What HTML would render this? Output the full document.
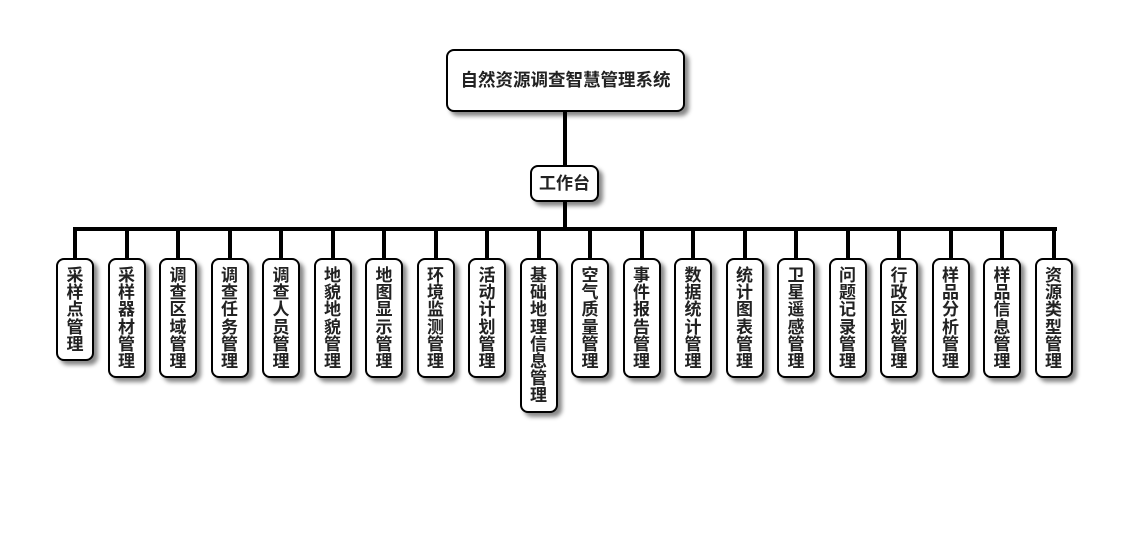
<!DOCTYPE html>
<html><head><meta charset="utf-8"><style>
body{margin:0;width:1130px;height:560px;background:#fff;position:relative;overflow:hidden;font-family:"Liberation Sans","Noto Sans CJK SC",sans-serif;font-weight:bold;color:#222}
.b{position:absolute;box-sizing:border-box;border:2px solid #000;border-radius:8px;background:#fff;box-shadow:4px 4px 4px #888;text-align:center}
.l{position:absolute;background:#000}
.c{top:258px;width:38px;padding:7px 0 6px;font-size:17px;line-height:17.2px;word-break:break-all}
.c span{display:inline-block;width:18px}
</style></head><body>
<div class="b" style="left:446px;top:49px;width:239px;height:63px;line-height:59px;font-size:17.5px">自然资源调查智慧管理系统</div>
<div class="l" style="left:563px;top:112px;width:4px;height:53px"></div>
<div class="b" style="left:530px;top:165px;width:69px;height:37px;line-height:33px;font-size:17px">工作台</div>
<div class="l" style="left:563px;top:202px;width:4px;height:27px"></div>
<div class="l" style="left:73px;top:227px;width:984px;height:4px"></div>
<div id="k"></div>
<script>
var t=["采样点管理","采样器材管理","调查区域管理","调查任务管理","调查人员管理","地貌地貌管理","地图显示管理","环境监测管理","活动计划管理","基础地理信息管理","空气质量管理","事件报告管理","数据统计管理","统计图表管理","卫星遥感管理","问题记录管理","行政区划管理","样品分析管理","样品信息管理","资源类型管理"];
var h="";
for(var i=0;i<t.length;i++){var x=75+i*51.5;
h+='<div class="l" style="left:'+(x-2)+'px;top:229px;width:4px;height:29px"></div>';
h+='<div class="b c" style="left:'+(x-19)+'px"><span>'+t[i]+'</span></div>';}
document.getElementById("k").innerHTML=h;
</script>
</body></html>
